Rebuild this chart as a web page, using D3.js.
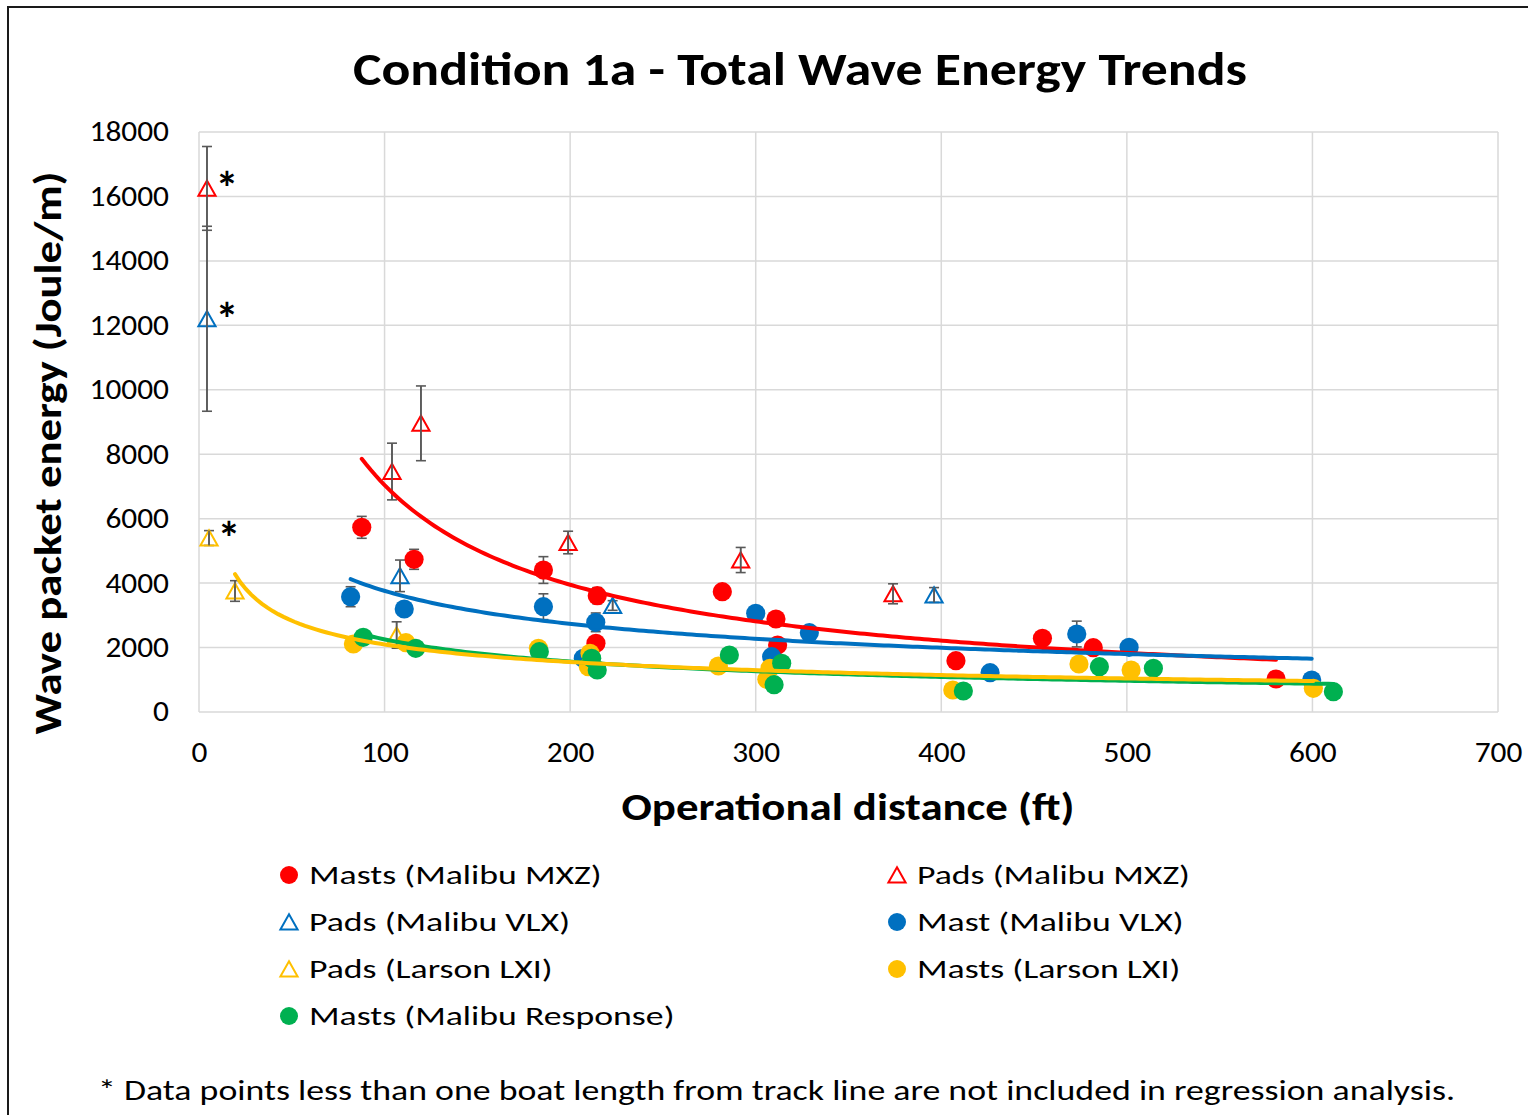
<!DOCTYPE html>
<html>
<head>
<meta charset="utf-8">
<script src="https://cdn.jsdelivr.net/npm/d3@7"></script>
<style>
  body { margin: 0; background: #fff; }
  svg text { font-family: Carlito, Calibri, Lato, sans-serif; fill: #000; }
</style>
</head>
<body>
<script>
// each point: [distance ft, energy J/m, error bar half-height]
const mastsMXZ = [
  [87.7, 5731, 340], [115.9, 4738, 310], [185.6, 4406, 415], [214.6, 3609, 250],
  [213.9, 2132, 150], [282.0, 3733, 150], [310.9, 2886, 150], [311.8, 2079, 150],
  [407.9, 1592, 150], [454.5, 2287, 150], [481.9, 1995, 150], [580.4, 1024, 150]
];
const padsMXZ = [
  [4.3, 16250, 1300], [104.0, 7463, 880], [119.6, 8959, 1160], [198.9, 5260, 350],
  [291.9, 4717, 390], [374.0, 3668, 310]
];
const padsVLX = [
  [4.3, 12204, 2870], [108.3, 4226, 490], [222.9, 3305, 150], [396.1, 3631, 230]
];
const mastVLX = [
  [81.7, 3578, 310], [110.6, 3196, 200], [185.6, 3268, 400], [213.8, 2783, 290],
  [207.1, 1666, 150], [300.0, 3063, 150], [308.6, 1716, 150], [328.9, 2461, 150],
  [426.3, 1220, 150], [473.0, 2420, 400], [501.2, 2008, 150], [599.6, 993, 150]
];
const padsLXI = [
  [5.4, 5399, 230], [19.4, 3755, 320], [106.5, 2389, 410]
];
const mastsLXI = [
  [83.2, 2110, 150], [111.5, 2150, 150], [182.9, 1976, 150], [210.7, 1821, 150],
  [209.8, 1406, 150], [279.9, 1427, 150], [307.7, 1356, 150], [306.0, 1015, 150],
  [406.2, 683, 150], [474.2, 1489, 150], [502.3, 1303, 150], [600.5, 735, 150]
];
const mastsResponse = [
  [88.5, 2318, 150], [116.8, 1976, 150], [183.4, 1871, 150], [211.6, 1666, 150],
  [214.6, 1303, 150], [285.8, 1769, 150], [314.0, 1511, 150], [309.9, 847, 150],
  [411.9, 652, 150], [485.2, 1406, 150], [514.3, 1356, 150], [611.3, 630, 150]
];

const seriesNames = ['Masts (Malibu MXZ)', 'Pads (Malibu MXZ)', 'Pads (Malibu VLX)', 'Mast (Malibu VLX)',
  'Pads (Larson LXI)', 'Masts (Larson LXI)', 'Masts (Malibu Response)'];
const seriesData = [mastsMXZ, padsMXZ, padsVLX, mastVLX, padsLXI, mastsLXI, mastsResponse];
const seriesColors = ['#FF0000', '#FF0000', '#0070C0', '#0070C0', '#FFC000', '#FFC000', '#00B050'];
const seriesShapes = ['circle', 'triangle', 'triangle', 'circle', 'triangle', 'circle', 'circle'];

// points closer than one boat length (marked *), [series, point]
const starPoints = [[1, 0], [2, 0], [4, 0]];

// power trend lines fitted over these series (drawing order)
const trendGroups = [[0, 1], [2, 3], [6], [4, 5]];
const trendColors = ['#FF0000', '#0070C0', '#00B050', '#FFC000'];

const xTicks = [0, 100, 200, 300, 400, 500, 600, 700];
const yTicks = [0, 2000, 4000, 6000, 8000, 10000, 12000, 14000, 16000, 18000];

const chartTitle = 'Condition 1a - Total Wave Energy Trends';
const xTitle = 'Operational distance (ft)';
const yTitle = 'Wave packet energy (Joule/m)';
const footNote = '* Data points less than one boat length from track line are not included in regression analysis.';

const width = 1528, height = 1115;
const plot = { left: 199, right: 1498, top: 132, bottom: 712 };

const svg = d3.select('body').append('svg')
  .attr('width', width)
  .attr('height', height);

svg.append('rect').attr('width', width).attr('height', height).attr('fill', '#fff');
// chart frame (runs off the right / bottom edge)
svg.append('rect')
  .attr('x', 8).attr('y', 7).attr('width', 1560).attr('height', 1160)
  .attr('fill', 'none').attr('stroke', '#1a1a1a').attr('stroke-width', 2);

const x = d3.scaleLinear().domain([0, 700]).range([plot.left, plot.right]);
const y = d3.scaleLinear().domain([0, 18000]).range([plot.bottom, plot.top]);

function fitWidth(sel, w) {
  sel.attr('textLength', w).attr('lengthAdjust', 'spacingAndGlyphs');
}
// the source picture is wider than the font, stretch text horizontally
function stretch(sel, k) {
  sel.each(function () {
    const n = this.getComputedTextLength();
    d3.select(this).attr('textLength', n * k).attr('lengthAdjust', 'spacingAndGlyphs');
  });
}

// gridlines
const grid = svg.append('g');
grid.selectAll('.gy').data(yTicks).enter().append('line')
  .attr('x1', plot.left).attr('x2', plot.right)
  .attr('y1', d => y(d)).attr('y2', d => y(d))
  .attr('stroke', '#d9d9d9').attr('stroke-width', 1.5);
grid.selectAll('.gx').data(xTicks).enter().append('line')
  .attr('x1', d => x(d)).attr('x2', d => x(d))
  .attr('y1', plot.top).attr('y2', plot.bottom)
  .attr('stroke', '#d9d9d9').attr('stroke-width', 1.5);

// axes (labels only, Excel style)
const xAxis = d3.axisBottom(x).tickValues(xTicks).tickSize(0).tickPadding(30).tickFormat(d3.format('d'));
const yAxis = d3.axisLeft(y).tickValues(yTicks).tickSize(0).tickPadding(30).tickFormat(d3.format('d'));

const gx = svg.append('g').attr('transform', `translate(0,${plot.bottom})`).call(xAxis);
const gy = svg.append('g').attr('transform', `translate(${plot.left},0)`).call(yAxis);
[gx, gy].forEach(g => {
  g.select('.domain').remove();
  g.selectAll('text').attr('font-size', 28).attr('font-family', 'Carlito, Calibri, Lato, sans-serif').attr('fill', '#000');
  g.selectAll('text').call(stretch, 1.12);
});
gx.selectAll('text').attr('dy', '0.71em').attr('y', 30);

// error bars
const errG = svg.append('g');
seriesData.forEach(data => {
  const g = errG.append('g');
  g.selectAll('.stem').data(data).enter().append('line')
    .attr('x1', d => x(d[0])).attr('x2', d => x(d[0]))
    .attr('y1', d => y(d[1] - d[2])).attr('y2', d => y(d[1] + d[2]))
    .attr('stroke', '#595959').attr('stroke-width', 1.6);
  [1, -1].forEach(s => {
    g.selectAll('.cap').data(data).enter().append('line')
      .attr('x1', d => x(d[0]) - 5).attr('x2', d => x(d[0]) + 5)
      .attr('y1', d => y(d[1] + s * d[2])).attr('y2', d => y(d[1] + s * d[2]))
      .attr('stroke', '#595959').attr('stroke-width', 1.6);
  });
});

const triPath = 'M0,-7.8L8.6,7.4L-8.6,7.4Z';

function drawMarker(sel, shape, color, r) {
  if (shape === 'circle') {
    sel.append('circle').attr('r', r).attr('fill', color);
  } else {
    sel.append('path').attr('d', triPath).attr('fill', 'none')
      .attr('stroke', color).attr('stroke-width', 2);
  }
}

// markers
seriesData.forEach((data, i) => {
  const g = svg.append('g');
  g.selectAll('g').data(data).enter().append('g')
    .attr('transform', d => `translate(${x(d[0])},${y(d[1])})`)
    .each(function () { drawMarker(d3.select(this), seriesShapes[i], seriesColors[i], 9.6); });
});

// stem over hollow triangles
seriesData.forEach((data, i) => {
  if (seriesShapes[i] !== 'triangle') return;
  svg.append('g').selectAll('line').data(data).enter().append('line')
    .attr('x1', d => x(d[0])).attr('x2', d => x(d[0]))
    .attr('y1', d => y(d[1] - d[2])).attr('y2', d => y(d[1] + d[2]))
    .attr('stroke', '#595959').attr('stroke-width', 1.6);
});

// power regression trend lines (excluding * points)
const isStar = (si, pi) => starPoints.some(p => p[0] === si && p[1] === pi);
const line = d3.line().x(d => x(d[0])).y(d => y(d[1]));

trendGroups.forEach((group, gi) => {
  const pts = [];
  group.forEach(si => seriesData[si].forEach((d, pi) => { if (!isStar(si, pi)) pts.push(d); }));
  const lx = pts.map(d => Math.log(d[0])), ly = pts.map(d => Math.log(d[1]));
  const mx = d3.mean(lx), my = d3.mean(ly);
  const b = d3.sum(lx, (v, k) => (v - mx) * (ly[k] - my)) / d3.sum(lx, v => (v - mx) * (v - mx));
  const a = Math.exp(my - b * mx);
  const [x0, x1] = d3.extent(pts, d => d[0]);
  const curve = d3.range(0, 201).map(k => {
    const xv = x0 + (x1 - x0) * k / 200;
    return [xv, a * Math.pow(xv, b)];
  });
  svg.append('path').datum(curve)
    .attr('d', line).attr('fill', 'none')
    .attr('stroke', trendColors[gi]).attr('stroke-width', 4)
    .attr('stroke-linecap', 'round');
});

// asterisks for excluded points
starPoints.forEach(([si, pi]) => {
  const d = seriesData[si][pi];
  svg.append('text')
    .attr('x', x(d[0]) + 20).attr('y', y(d[1]) + 16)
    .attr('text-anchor', 'middle').attr('font-size', 46).attr('font-weight', 700)
    .text('*');
});

// titles
svg.append('text').attr('x', 800).attr('y', 85).attr('text-anchor', 'middle')
  .attr('font-size', 47).attr('font-weight', 700).text(chartTitle)
  .call(fitWidth, 894);

svg.append('text').attr('x', 848).attr('y', 820).attr('text-anchor', 'middle')
  .attr('font-size', 39).attr('font-weight', 700).text(xTitle)
  .call(fitWidth, 453);

svg.append('text')
  .attr('transform', 'translate(61,453) rotate(-90)')
  .attr('text-anchor', 'middle')
  .attr('font-size', 39).attr('font-weight', 700).text(yTitle)
  .call(fitWidth, 563);

// legend: two columns, row-major
const legendCols = [289, 897];
const legendRows = [875, 922, 969, 1016];
const legend = svg.append('g');
seriesNames.forEach((name, i) => {
  const g = legend.append('g')
    .attr('transform', `translate(${legendCols[i % 2]},${legendRows[Math.floor(i / 2)]})`);
  drawMarker(g, seriesShapes[i], seriesColors[i], 9);
  g.append('text').attr('x', 20).attr('y', 9).attr('font-size', 27.5).text(name)
    .call(stretch, 1.3);
});

svg.append('text').attr('x', 98).attr('y', 1100).attr('font-size', 28.5).text(footNote)
  .call(fitWidth, 1357);
</script>
</body>
</html>
